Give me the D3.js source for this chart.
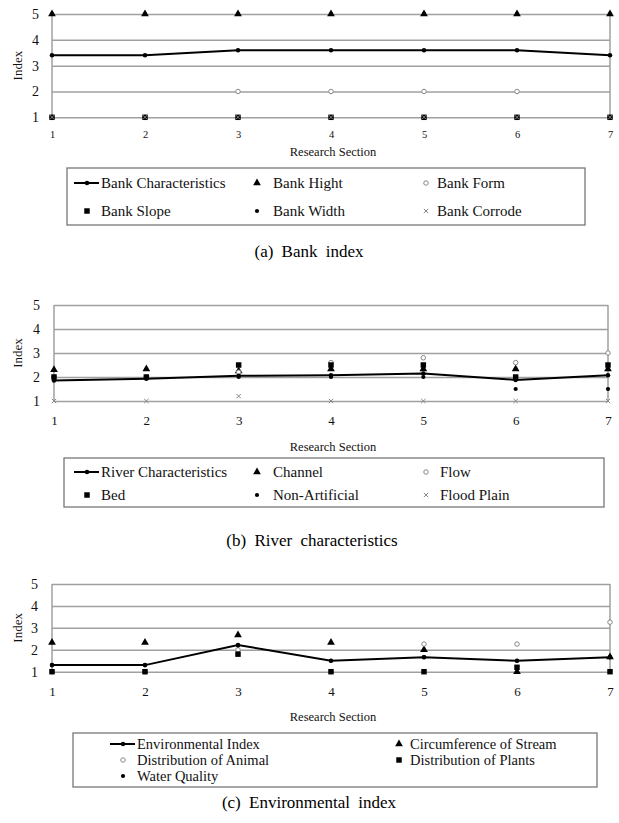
<!DOCTYPE html>
<html>
<head>
<meta charset="utf-8">
<script src="https://cdn.jsdelivr.net/npm/d3@7"></script>
<style>
  body { margin: 0; background: #fff; }
  svg { display: block; font-family: "Liberation Serif", "DejaVu Serif", serif; }
</style>
</head>
<body>
<div id="chart"></div>
<script>
// research sections and index ticks
const sections = [1, 2, 3, 4, 5, 6, 7];
const yTicks = [1, 2, 3, 4, 5];

// (a) Bank index
const bankCharacteristics = [3.4, 3.4, 3.6, 3.6, 3.6, 3.6, 3.4];
const bankHight = [5, 5, 5, 5, 5, 5, 5];
const bankForm = [1, 1, 2, 2, 2, 2, 1];
const bankSlope = [1, 1, 1, 1, 1, 1, 1];
const bankWidth = [5, 5, 5, 5, 5, 5, 5];
const bankCorrode = [1, 1, 1, 1, 1, 1, 1];

// (b) River characteristics
const riverCharacteristics = [1.85, 1.93, 2.05, 2.07, 2.15, 1.88, 2.07];
const channel = [2.3, 2.33, 2.25, 2.33, 2.33, 2.33, 2.33];
const flow = [2, 2, 2.2, 2.6, 2.8, 2.6, 3.0];
const bed = [2, 2, 2.5, 2.5, 2.5, 2, 2.5];
const nonArtificial = [2, 2, 2, 2, 2, 1.5, 1.5];
const floodPlain = [1, 1, 1.2, 1, 1, 1, 1];

// (c) Environmental index
const environmentalIndex = [1.3, 1.3, 2.22, 1.5, 1.66, 1.5, 1.66];
const circumference = [2.33, 2.33, 2.67, 2.33, 2.0, 1.0, 1.67];
const animal = [1, 1, 2, 1, 2.26, 2.26, 3.26];
const plants = [1, 1, 1.8, 1, 1, 1.2, 1];
const waterQuality = [1.3, 1.3, 2.2, 1.5, 1.66, 1.5, 1.66];

const W = 619, H = 823;
const svg = d3.select("#chart").append("svg")
  .attr("width", W).attr("height", H)
  .attr("viewBox", [0, 0, W, H]);

// marker styles by kind
const markers = {
  line:     { type: d3.symbolCircle,   size: 16, fill: "#000", stroke: "none" },
  triangle: { type: d3.symbolTriangle, size: 26, fill: "#000", stroke: "none" },
  circle:   { type: d3.symbolCircle,   size: 16, fill: "#fff", stroke: "#888" },
  square:   { type: d3.symbolSquare,   size: 30, fill: "#000", stroke: "none" },
  diamond:  { type: d3.symbolCircle,   size: 14, fill: "#000", stroke: "none" },
  times:    { type: d3.symbolTimes,    size: 14, fill: "none", stroke: "#888" }
};

function drawMarker(g, kind, x, y) {
  const m = markers[kind];
  g.append("path")
    .attr("transform", `translate(${x},${y})`)
    .attr("d", d3.symbol().type(m.type).size(m.size)())
    .attr("fill", m.fill)
    .attr("stroke", m.stroke)
    .attr("stroke-width", 1);
}

function drawPanel(p) {
  const g = svg.append("g");
  const x = d3.scaleLinear([1, 7], [p.left, p.right]);
  const y = d3.scaleLinear([1, 5], [p.bottom, p.top]);

  // horizontal grid
  g.append("g")
    .attr("transform", `translate(${p.left},0)`)
    .call(d3.axisLeft(y).tickValues(yTicks).tickSize(-(p.right - p.left)).tickPadding(p.yPad).tickFormat(d3.format("d")))
    .call(a => a.select(".domain").remove())
    .call(a => a.selectAll(".tick line").attr("stroke", "#a0a0a0").attr("stroke-width", 1.5))
    .call(a => a.selectAll(".tick text").attr("fill", "#111").attr("font-size", p.yFont).attr("font-family", "Liberation Serif"));

  // frame
  g.append("line").attr("x1", p.left).attr("x2", p.left).attr("y1", y(5)).attr("y2", y(1))
    .attr("stroke", "#a0a0a0").attr("stroke-width", 1.5);
  g.append("line").attr("x1", p.right).attr("x2", p.right).attr("y1", y(5)).attr("y2", y(1))
    .attr("stroke", "#a0a0a0").attr("stroke-width", 1.5);

  // x axis labels
  g.append("g")
    .attr("transform", `translate(0,${p.bottom})`)
    .call(d3.axisBottom(x).tickValues(sections).tickSize(0).tickPadding(p.xPad).tickFormat(d3.format("d")))
    .call(a => a.select(".domain").remove())
    .call(a => a.selectAll(".tick text").attr("fill", "#111").attr("font-size", p.xFont).attr("font-family", "Liberation Serif"));

  // axis titles
  g.append("text")
    .attr("transform", `translate(${p.indexX},${(p.top + p.bottom) / 2}) rotate(-90)`)
    .attr("text-anchor", "middle").attr("dominant-baseline", "central")
    .attr("font-size", 13).attr("fill", "#111").text("Index");
  g.append("text")
    .attr("x", (p.left + p.right) / 2 + 2).attr("y", p.titleY)
    .attr("text-anchor", "middle").attr("dominant-baseline", "central")
    .attr("font-size", 12.5).attr("fill", "#111").text("Research Section");

  // point series first, then the main line on top
  p.series.slice(1).forEach(s => {
    s.values.forEach((v, i) => drawMarker(g, s.kind, x(sections[i]), y(v)));
  });
  const main = p.series[0];
  g.append("path")
    .datum(main.values)
    .attr("fill", "none").attr("stroke", "#000").attr("stroke-width", 2)
    .attr("d", d3.line().x((d, i) => x(sections[i])).y(d => y(d)));
  main.values.forEach((v, i) => drawMarker(g, "line", x(sections[i]), y(v)));

  // legend
  const L = p.legend;
  g.append("rect")
    .attr("x", L.x).attr("y", L.y).attr("width", L.w).attr("height", L.h)
    .attr("fill", "none").attr("stroke", "#777").attr("stroke-width", 1.3);
  p.series.forEach((s, i) => {
    const col = i % L.cols.length, row = Math.floor(i / L.cols.length);
    const cx = L.cols[col], cy = L.rows[row];
    if (s.kind === "line") {
      g.append("line").attr("x1", cx - 13).attr("x2", cx + 12).attr("y1", cy).attr("y2", cy)
        .attr("stroke", "#000").attr("stroke-width", 2);
      drawMarker(g, "line", cx, cy);
    } else {
      drawMarker(g, s.kind, cx, cy);
    }
    g.append("text")
      .attr("x", cx + L.textOff[col]).attr("y", cy)
      .attr("dominant-baseline", "central")
      .attr("font-size", L.font).attr("fill", "#111").text(s.name);
  });

  // caption
  g.append("text")
    .attr("x", p.captionX).attr("y", p.captionY)
    .attr("text-anchor", "middle").attr("dominant-baseline", "central")
    .attr("font-size", 17).attr("word-spacing", 4).attr("fill", "#000").text(p.caption);
}

drawPanel({
  left: 52, right: 610, top: 14, bottom: 117.3,
  yPad: 13, yFont: 14, xPad: 13, xFont: 10.5, indexX: 17, titleY: 152,
  series: [
    { name: "Bank Characteristics", kind: "line", values: bankCharacteristics },
    { name: "Bank Hight", kind: "triangle", values: bankHight },
    { name: "Bank Form", kind: "circle", values: bankForm },
    { name: "Bank Slope", kind: "square", values: bankSlope },
    { name: "Bank Width", kind: "diamond", values: bankWidth },
    { name: "Bank Corrode", kind: "times", values: bankCorrode }
  ],
  legend: { x: 67, y: 168, w: 518, h: 57, cols: [87, 257, 426], rows: [183, 211],
            textOff: [14, 16, 11], font: 15 },
  caption: "(a) Bank index", captionX: 309, captionY: 251
});

drawPanel({
  left: 54, right: 608, top: 305, bottom: 401,
  yPad: 14, yFont: 14, xPad: 15, xFont: 13, indexX: 17, titleY: 447,
  series: [
    { name: "River Characteristics", kind: "line", values: riverCharacteristics },
    { name: "Channel", kind: "triangle", values: channel },
    { name: "Flow", kind: "circle", values: flow },
    { name: "Bed", kind: "square", values: bed },
    { name: "Non-Artificial", kind: "diamond", values: nonArtificial },
    { name: "Flood Plain", kind: "times", values: floodPlain }
  ],
  legend: { x: 64, y: 458, w: 540, h: 49, cols: [87, 257, 426], rows: [472, 495],
            textOff: [14, 16, 14], font: 15 },
  caption: "(b) River characteristics", captionX: 312, captionY: 540
});

drawPanel({
  left: 52, right: 610, top: 584, bottom: 671.7,
  yPad: 14, yFont: 14, xPad: 15, xFont: 13, indexX: 17, titleY: 717,
  series: [
    { name: "Environmental Index", kind: "line", values: environmentalIndex },
    { name: "Circumference of Stream", kind: "triangle", values: circumference },
    { name: "Distribution of Animal", kind: "circle", values: animal },
    { name: "Distribution of Plants", kind: "square", values: plants },
    { name: "Water Quality", kind: "diamond", values: waterQuality }
  ],
  legend: { x: 73, y: 733, w: 524, h: 54, cols: [123, 399], rows: [744, 760, 776],
            textOff: [14, 11], font: 14.5 },
  caption: "(c) Environmental index", captionX: 309, captionY: 802
});
</script>
</body>
</html>
